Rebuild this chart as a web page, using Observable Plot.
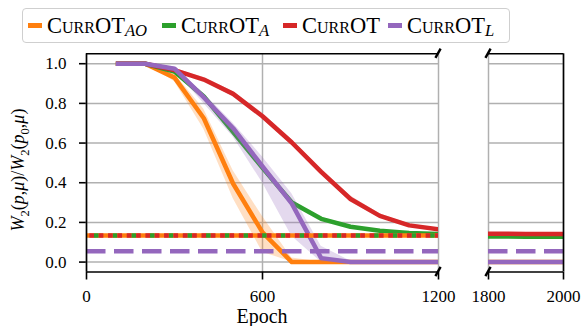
<!DOCTYPE html>
<html><head><meta charset="utf-8">
<script src="https://cdn.jsdelivr.net/npm/d3@7"></script>
<script src="https://cdn.jsdelivr.net/npm/@observablehq/plot@0.6"></script>
<style>
body{margin:0;background:#fff;}
#c{position:relative;width:584px;height:326px;font-family:"Liberation Serif","DejaVu Serif","Noto Serif","Times New Roman",Tinos,FreeSerif,serif;color:#000;overflow:hidden;}
#c svg{position:absolute;left:0;top:0;}
#c svg [aria-label$="tick"] path, #c svg [aria-label$="axis"] line{stroke-width:1.6px;}
.legend{position:absolute;left:22px;top:8px;width:486px;height:33px;border:1.5px solid #cfcfcf;border-radius:4px;background:rgba(255,255,255,0.85);}
.entry{position:absolute;top:0;height:33px;display:flex;align-items:center;white-space:nowrap;font-size:22.5px;}
.sw{display:inline-block;width:14px;height:4.5px;margin-right:5px;}
.sc{font-variant:small-caps;}
.sub{font-style:italic;font-size:0.74em;position:relative;top:0.33em;}
</style></head><body><div id="c"></div>
<script>
const epochs = [100,200,300,400,500,600,700,800,900,1000,1100,1200,1800,1900,2000];
const aoMean = [1,1,0.93,0.725,0.395,0.15,0,0,0,0,0,0,0,0,0];
const aoLow  = [1,1,0.91,0.67,0.32,0.05,0,0,0,0,0,0,0,0,0];
const aoHigh = [1,1,0.95,0.77,0.46,0.23,0.02,0,0,0,0,0,0,0,0];
const aMean  = [1,1,0.96,0.835,0.655,0.475,0.30,0.218,0.178,0.158,0.147,0.141,0.129,0.128,0.128];
const aLow   = [1,1,0.95,0.82,0.64,0.46,0.29,0.21,0.172,0.153,0.143,0.137,0.126,0.125,0.125];
const aHigh  = [1,1,0.97,0.85,0.67,0.49,0.31,0.226,0.184,0.163,0.151,0.145,0.132,0.131,0.131];
const cMean  = [1,1,0.968,0.92,0.848,0.735,0.603,0.455,0.318,0.233,0.185,0.165,0.143,0.142,0.141];
const cLow   = [1,1,0.96,0.91,0.835,0.72,0.588,0.44,0.303,0.222,0.178,0.16,0.139,0.138,0.137];
const cHigh  = [1,1,0.976,0.93,0.86,0.75,0.618,0.47,0.333,0.244,0.192,0.17,0.147,0.146,0.145];
const lMean  = [1,1,0.975,0.83,0.675,0.482,0.295,0.02,0,0,0,0,0,0,0];
const lLow   = [1,1,0.965,0.80,0.63,0.40,0.13,0,0,0,0,0,0,0,0];
const lHigh  = [1,1,0.985,0.85,0.70,0.53,0.345,0.08,0.005,0,0,0,0,0,0];
const refAO = 0.134, refA = 0.134, refC = 0.134, refL = 0.055;
const yTicks = [0,0.2,0.4,0.6,0.8,1.0];
const xTicksLeft = [0,600,1200];
const xTicksRight = [1800,2000];
const seriesNames = ["AO","A","","L"];
const colors = ["#ff7f0e","#2ca02c","#d62728","#9467bd"];
const fontStack = "'Liberation Serif','DejaVu Serif','Noto Serif','Times New Roman',Tinos,FreeSerif,serif";

const series = [
  {name:"AO", color:colors[0], mean:aoMean, lo:aoLow, hi:aoHigh},
  {name:"A", color:colors[1], mean:aMean, lo:aLow, hi:aHigh},
  {name:"", color:colors[2], mean:cMean, lo:cLow, hi:cHigh},
  {name:"L", color:colors[3], mean:lMean, lo:lLow, hi:lHigh}
].map(s => ({...s, rows: epochs.map((e,i)=>({epoch:e, mean:s.mean[i], lo:s.lo[i], hi:s.hi[i]}))}));

const yDomain = [-0.05, 1.05];
const common = {width:584, height:326, marginTop:53.3, marginBottom:54.5,
  style:{background:"transparent", fontSize:"17px", fontFamily:fontStack, color:"#000", overflow:"visible"}};

function curveMarks() {
  const m = [];
  for (const s of series) {
    m.push(Plot.areaY(s.rows, {x:"epoch", y1:"lo", y2:"hi", fill:s.color, fillOpacity:0.25, clip:true}));
    m.push(Plot.line(s.rows, {x:"epoch", y:"mean", stroke:s.color, strokeWidth:4.5, strokeLinejoin:"round", strokeLinecap:"butt", clip:true}));
  }
  return m;
}
function breakMarks(xs) {
  return (index, scales) => {
    const g = d3.create("svg:g");
    for (const xv of xs) for (const yv of yDomain) {
      const px = scales.x(xv), py = scales.y(yv);
      g.append("line").attr("x1", px-2.6).attr("y1", py+4.6).attr("x2", px+2.6).attr("y2", py-4.6)
        .attr("stroke","#000").attr("stroke-width",2.4);
    }
    return g.node();
  };
}
const fmtX = d => String(d);

const left = Plot.plot({...common, marginLeft:86, marginRight:146,
  x:{domain:[0,1200], ticks:xTicksLeft, tickSize:8, tickPadding:10, tickFormat:fmtX, label:null},
  y:{domain:yDomain, ticks:yTicks, tickSize:7, tickPadding:13, tickFormat:d=>d.toFixed(1), label:null},
  marks:[
    Plot.ruleY(yTicks, {stroke:"#b0b0b0", strokeWidth:1.5}),
    Plot.ruleX(xTicksLeft, {stroke:"#b0b0b0", strokeWidth:1.5}),
    ...curveMarks(),
    Plot.ruleY([refAO], {stroke:colors[0], strokeWidth:4.5}),
    Plot.ruleY([refA], {stroke:colors[1], strokeWidth:4.5, strokeDasharray:"4.67,14", strokeDashoffset:10.67}),
    Plot.ruleY([refC], {stroke:colors[2], strokeWidth:4.5, strokeDasharray:"4.67,4.67", strokeDashoffset:5.97}),
    Plot.ruleY([refL], {stroke:colors[3], strokeWidth:4.5, strokeDasharray:"19.5,8.5"}),
    Plot.ruleX([0], {stroke:"#000", strokeWidth:1.6}),
    Plot.ruleY(yDomain, {stroke:"#000", strokeWidth:1.6}),
    breakMarks([1200])
  ]});

const right = Plot.plot({...common, marginLeft:488, marginRight:21,
  x:{domain:[1800,2000], ticks:xTicksRight, tickSize:8, tickPadding:10, tickFormat:fmtX, label:null},
  y:{domain:yDomain, axis:null},
  marks:[
    Plot.ruleY(yTicks, {stroke:"#b0b0b0", strokeWidth:1.5}),
    Plot.ruleX(xTicksRight, {stroke:"#b0b0b0", strokeWidth:1.5}),
    ...curveMarks(),
    Plot.ruleY([refL], {stroke:colors[3], strokeWidth:4.5, strokeDasharray:"19.5,8.5"}),
    Plot.ruleX([2000], {stroke:"#000", strokeWidth:1.6}),
    Plot.ruleY(yDomain, {stroke:"#000", strokeWidth:1.6}),
    breakMarks([1800])
  ]});

const c = document.getElementById("c");
c.appendChild(left);
c.appendChild(right);

// axis titles as SVG text
const ov = d3.create("svg").attr("width",584).attr("height",326)
  .style("font-family", fontStack).style("overflow","visible");
const yt = ov.append("text").attr("transform","translate(24,170) rotate(-90)")
  .attr("text-anchor","middle").attr("font-size",18);
const addT = (t, opts={}) => {
  const s = yt.append("tspan").text(t);
  if (opts.it) s.attr("font-style","italic");
  if (opts.sub) s.attr("font-size",12.5).attr("dy",5);
  if (opts.up) s.attr("dy",-5);
  return s;
};
addT("W",{it:true}); addT("2",{sub:true}); addT("(",{up:true}); addT("p",{it:true}); addT(","); addT("μ",{it:true}); addT(")/");
addT("W",{it:true}); addT("2",{sub:true}); addT("(",{up:true}); addT("p",{it:true}); addT("0",{sub:true}); addT(",",{up:true}); addT("μ",{it:true}); addT(")");
ov.append("text").attr("x",262).attr("y",323).attr("text-anchor","middle").attr("font-size",20).text("Epoch");
c.appendChild(ov.node());

const legend = document.createElement("div");
legend.className = "legend";
const entryLeft = [5, 139, 260, 365];
seriesNames.forEach((n,i) => {
  const e = document.createElement("div");
  e.className = "entry";
  e.style.left = entryLeft[i] + "px";
  e.innerHTML = `<span class="sw" style="background:${colors[i]}"></span><span class="sc">CurrOT</span>` + (n ? `<span class="sub">${n}</span>` : "");
  legend.appendChild(e);
});
c.appendChild(legend);
</script></body></html>
